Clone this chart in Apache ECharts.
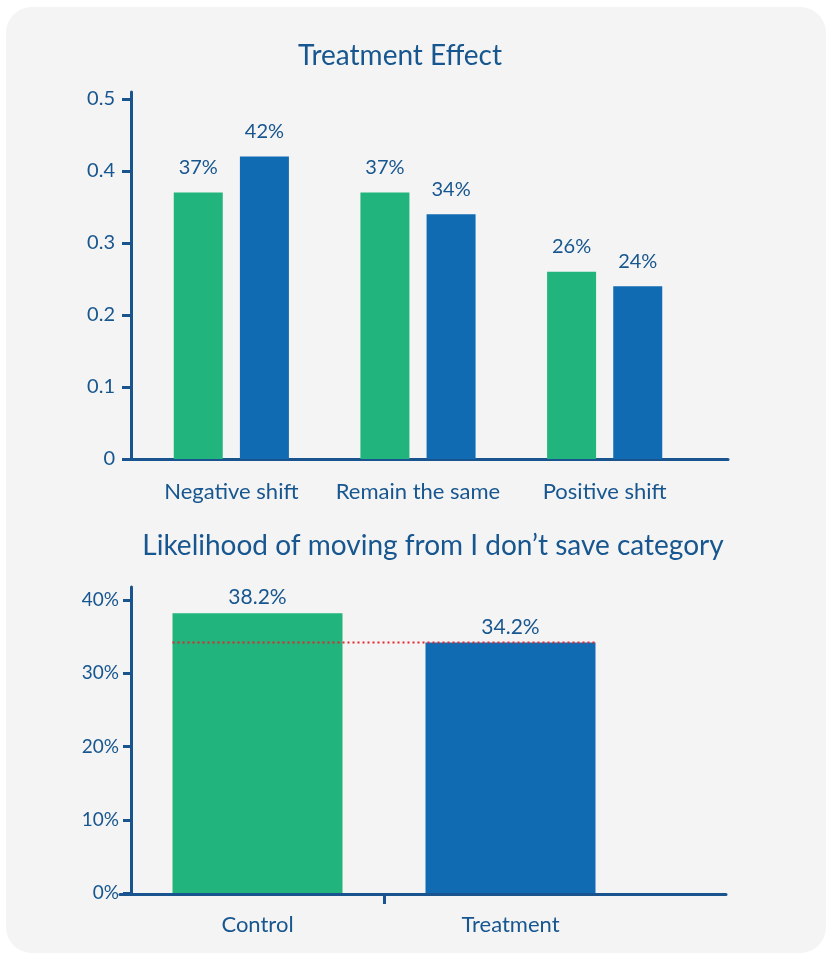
<!DOCTYPE html>
<html>
<head>
<meta charset="utf-8">
<script src="https://cdn.jsdelivr.net/npm/echarts@6/dist/echarts.min.js"></script>
<style>
  html, body { margin: 0; padding: 0; background: #ffffff; }
  #chart { width: 826px; height: 953px; }
</style>
</head>
<body>
<div id="chart"></div>
<script>
// Upper panel: share of respondents per shift category, control vs treatment
const TOP_CATEGORIES = ['Negative shift', 'Remain the same', 'Positive shift'];
const TOP_CONTROL = [0.37, 0.37, 0.26];
const TOP_TREATMENT = [0.42, 0.34, 0.24];
const TOP_Y_MAX = 0.5;
const TOP_Y_STEP = 0.1;

// Lower panel: likelihood of leaving the "I don't save" category
const BOTTOM_CATEGORIES = ['Control', 'Treatment'];
const BOTTOM_VALUES = [0.382, 0.342];
const BOTTOM_Y_MAX = 0.4;
const BOTTOM_Y_STEP = 0.1;

const GREEN = '#21b57d';
const BLUE = '#106bb2';
const INK = '#17568f';
const AXIS = '#19548e';
const FONT = 'Lato';

// layout
const TOP_GRID = { left: 138, top: 99, width: 560, bottom: 494 };
const BOTTOM_GRID = { left: 131, top: 600, width: 506, bottom: 60 };
const BOTTOM_BAR_W = 170;

const chart = echarts.init(document.getElementById('chart'), null, { renderer: 'canvas' });

const pctInt = v => Math.round(v * 100) + '%';
const pctOne = v => (v * 100).toFixed(1) + '%';

// half-width of a lower bar, in category units, so the reference line spans both bars
const halfBar = BOTTOM_BAR_W / (BOTTOM_GRID.width / BOTTOM_CATEGORIES.length) / 2;
const refValue = BOTTOM_VALUES[1];
const refLine = [
  [0.5 - halfBar, refValue],
  [BOTTOM_CATEGORIES.length - 0.5 + halfBar, refValue]
];

const hidden = { show: false };
const bareValueY = (max, step) => ({
  type: 'value', min: 0, max: max, interval: step,
  axisLine: hidden, axisTick: hidden, axisLabel: hidden, splitLine: hidden
});

const option = {
  backgroundColor: '#ffffff',
  animation: false,
  textStyle: { fontFamily: FONT },
  graphic: [{
    type: 'rect',
    z: -10,
    shape: { x: 6, y: 7, width: 820, height: 946, r: 26 },
    style: { fill: '#f4f4f4' }
  }],
  title: [
    {
      text: 'Treatment Effect',
      left: 400, top: 42, padding: 0, textAlign: 'center',
      textStyle: { color: INK, fontSize: 28, fontWeight: 'normal', fontFamily: FONT }
    },
    {
      text: 'Likelihood of moving from I don\u2019t save category',
      left: 433, top: 532, padding: 0, textAlign: 'center',
      textStyle: { color: INK, fontSize: 28, fontWeight: 'normal', fontFamily: FONT }
    }
  ],
  grid: [
    // 0: upper bars
    TOP_GRID,
    // 1: upper axis lines
    { left: 128, right: 98, top: 92, bottom: 494 },
    // 2: lower bars
    BOTTOM_GRID,
    // 3: lower axis lines
    { left: 120, right: 100, top: 587, bottom: 59 },
    // 4: lower category divider tick and reference line
    BOTTOM_GRID
  ],
  xAxis: [
    {
      gridIndex: 0, type: 'category', data: TOP_CATEGORIES,
      axisLine: hidden, axisTick: hidden,
      axisLabel: { interval: 0, hideOverlap: false, color: INK, fontSize: 22, margin: 22, fontFamily: FONT }
    },
    {
      gridIndex: 1, type: 'value', min: 0, max: 1,
      axisLine: { show: true, lineStyle: { color: AXIS, width: 3 } },
      axisTick: hidden, axisLabel: hidden, splitLine: hidden
    },
    {
      gridIndex: 2, type: 'category', data: BOTTOM_CATEGORIES,
      axisLine: hidden, axisTick: hidden,
      axisLabel: { interval: 0, color: INK, fontSize: 22, margin: 21, fontFamily: FONT }
    },
    {
      gridIndex: 3, type: 'value', min: 0, max: 1,
      axisLine: { show: true, lineStyle: { color: AXIS, width: 3 } },
      axisTick: hidden, axisLabel: hidden, splitLine: hidden
    },
    {
      gridIndex: 4, type: 'value', min: 0, max: BOTTOM_CATEGORIES.length,
      axisLine: hidden, axisLabel: hidden, splitLine: hidden,
      axisTick: {
        show: true, length: 11, customValues: [1],
        lineStyle: { color: AXIS, width: 3 }
      }
    }
  ],
  yAxis: [
    {
      gridIndex: 0, type: 'value', min: 0, max: TOP_Y_MAX, interval: TOP_Y_STEP,
      offset: 7,
      axisLine: hidden,
      axisTick: { show: true, length: 9, lineStyle: { color: AXIS, width: 3 } },
      axisLabel: {
        color: INK, fontSize: 20, margin: 16, fontFamily: FONT,
        formatter: v => (v === 0 ? '0' : v.toFixed(1))
      },
      splitLine: hidden
    },
    {
      gridIndex: 1, type: 'value', min: 0, max: 1, offset: -3,
      axisLine: { show: true, lineStyle: { color: AXIS, width: 3 } },
      axisTick: hidden, axisLabel: hidden, splitLine: hidden
    },
    {
      gridIndex: 2, type: 'value', min: 0, max: BOTTOM_Y_MAX, interval: BOTTOM_Y_STEP,
      axisLine: hidden,
      axisTick: { show: true, length: 8, lineStyle: { color: AXIS, width: 3 } },
      axisLabel: {
        color: INK, fontSize: 19, margin: 12, fontFamily: FONT,
        formatter: v => Math.round(v * 100) + '%'
      },
      splitLine: hidden
    },
    {
      gridIndex: 3, type: 'value', min: 0, max: 1, offset: -11,
      axisLine: { show: true, lineStyle: { color: AXIS, width: 3 } },
      axisTick: hidden, axisLabel: hidden, splitLine: hidden
    },
    Object.assign({ gridIndex: 4 }, bareValueY(BOTTOM_Y_MAX, BOTTOM_Y_STEP))
  ],
  series: [
    {
      name: 'Control', type: 'bar', xAxisIndex: 0, yAxisIndex: 0,
      data: TOP_CONTROL, barWidth: 49, barGap: '35%',
      itemStyle: { color: GREEN },
      label: {
        show: true, position: 'top', distance: 15, color: INK,
        fontSize: 20, fontFamily: FONT, formatter: p => pctInt(p.value)
      }
    },
    {
      name: 'Treatment', type: 'bar', xAxisIndex: 0, yAxisIndex: 0,
      data: TOP_TREATMENT, barWidth: 49, barGap: '35%',
      itemStyle: { color: BLUE },
      label: {
        show: true, position: 'top', distance: 15, color: INK,
        fontSize: 20, fontFamily: FONT, formatter: p => pctInt(p.value)
      }
    },
    {
      name: 'Likelihood', type: 'bar', xAxisIndex: 2, yAxisIndex: 2,
      barWidth: BOTTOM_BAR_W,
      data: BOTTOM_VALUES.map((v, i) => ({ value: v, itemStyle: { color: i === 0 ? GREEN : BLUE } })),
      label: {
        show: true, position: 'top', distance: 5, color: INK,
        fontSize: 21, fontFamily: FONT, formatter: p => pctOne(p.value)
      }
    },
    {
      name: 'Treatment level', type: 'line', xAxisIndex: 4, yAxisIndex: 4,
      data: refLine, symbol: 'none', z: 5,
      lineStyle: { color: '#e3252c', width: 2, type: [2, 3] }
    }
  ]
};

chart.setOption(option);
</script>
</body>
</html>
